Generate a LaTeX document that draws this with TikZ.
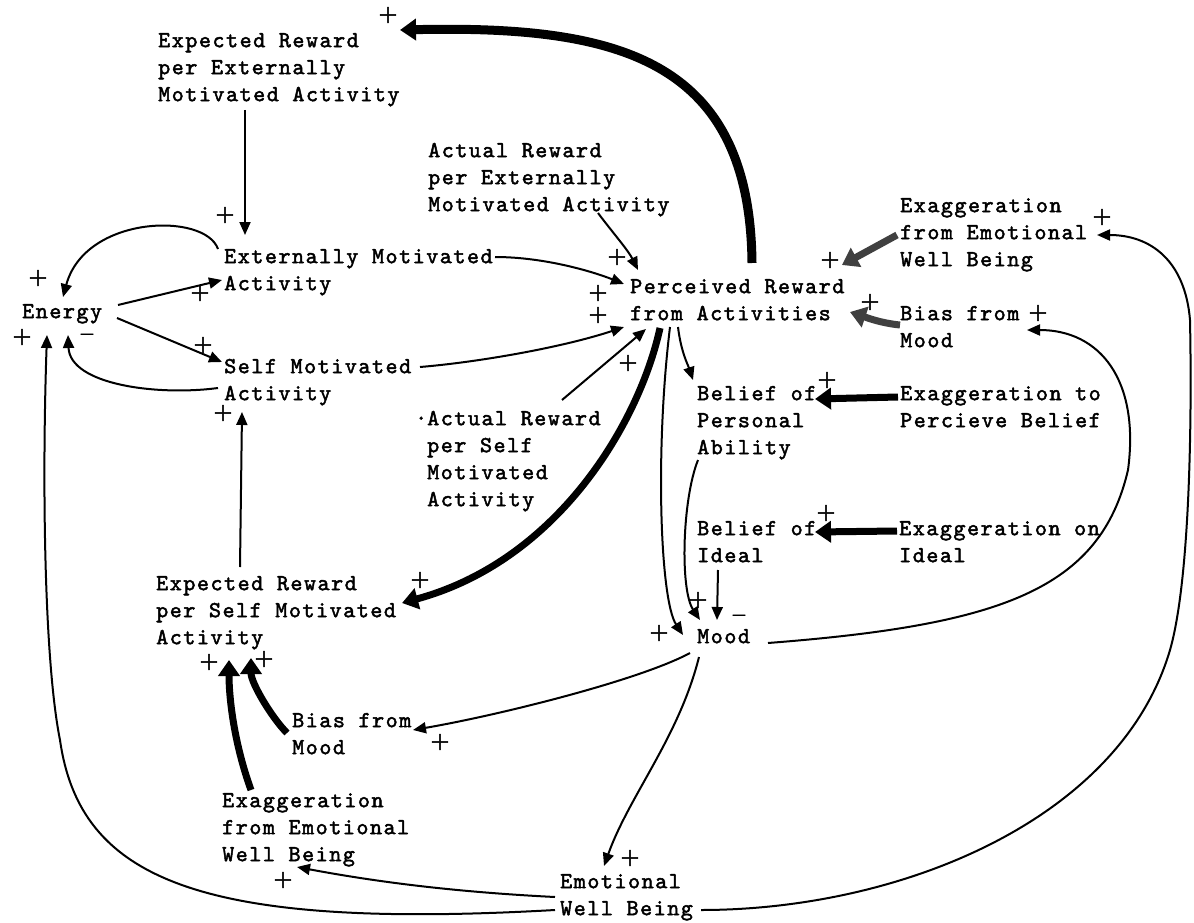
\documentclass[tikz,border=0pt]{standalone}
\usepackage{fontspec}
\newfontfamily\typewriter[LetterSpace=6.5,FakeBold=2]{lmmono10-regular.otf}
\newfontfamily\signfont[FakeBold=2.5]{lmroman10-bold.otf}
\usetikzlibrary{arrows.meta,calc}
\newcommand\ts{\rule{0pt}{16pt}}

\begin{document}
\begin{tikzpicture}[x=1pt,y=-1pt,
  var/.style={font=\typewriter\fontsize{23}{27}\selectfont, align=left, anchor=north west, inner sep=0pt},
  sign/.style={font=\signfont\fontsize{21}{21}\selectfont, inner sep=0pt},
  link/.style={line width=2pt, -{Triangle[length=13pt,width=11pt]}},
  heavy/.style={line width=7pt, -{Triangle[length=16pt,width=21pt]}}]
\useasboundingbox (0,0) rectangle (1194,923);
\fill[white] (0,0) rectangle (1194,923);
% variables
\node[var] (ExpExt) at (158,31) {\ts Expected Reward\\per Externally\\Motivated Activity};
\node[var] (ActExt) at (428,141) {\ts Actual Reward\\per Externally\\Motivated Activity};
\node[var] (ExtAct) at (224,247) {\ts Externally Motivated\\Activity};
\node[var] (Energy) at (22,302) {\ts Energy};
\node[var] (SelfAct) at (224,357) {\ts Self Motivated\\Activity};
\node[var] (PerRew) at (630,277) {\ts Perceived Reward\\from Activities};
\node[var] (ActSelf) at (427,409) {\ts\llap{·}Actual Reward\\per Self\\Motivated\\Activity};
\node[var] (ExpSelf) at (156,574) {\ts Expected Reward\\per Self Motivated\\Activity};
\node[var] (BelPers) at (697,384) {\ts Belief of\\Personal\\Ability};
\node[var] (BelIdeal) at (697,519) {\ts Belief of\\Ideal};
\node[var] (Mood) at (697,627) {\ts Mood};
\node[var] (EWB) at (560,872) {\ts Emotional\\Well Being};
\node[var] (ExagR) at (900,196) {\ts Exaggeration\\from Emotional\\Well Being};
\node[var] (BiasR) at (900,304) {\ts Bias from\\Mood};
\node[var] (ExagPerc) at (900,384) {\ts Exaggeration to\\Percieve Belief};
\node[var] (ExagIdeal) at (899,519) {\ts Exaggeration on\\Ideal};
\node[var] (BiasL) at (292,711) {\ts Bias from\\Mood};
\node[var] (ExagL) at (222,791) {\ts Exaggeration\\from Emotional\\Well Being};
% thin links
\draw[link] ($(ExpExt.north west)+(87,79)$) -- ($(ExtAct.north west)+(21,-12)$);
\draw[link] ($(ExtAct.north west)+(-6,2)$) .. controls +(-13,-37) and +(22,-82) .. ($(Energy.north west)+(41,-5)$);
\draw[link] ($(Energy.north west)+(96,3)$) -- ($(ExtAct.north west)+(-2,33)$);
\draw[link] ($(Energy.north west)+(95,16)$) -- ($(SelfAct.north west)+(-2,5)$);
\draw[link] ($(SelfAct.north west)+(-6,31)$) .. controls +(-60,8) and +(2,50) .. ($(Energy.north west)+(46,33)$);
\draw[link] ($(ExpSelf.north west)+(84,-7)$) -- ($(SelfAct.north west)+(18,55)$);
\draw[link] ($(EWB.north west)+(-5,38)$) .. controls (200,930) and (80,880) .. (60,740)
  .. controls (44,660) and (42,480) .. ($(Energy.north west)+(25,33)$);
\draw[link] ($(ActExt.north west)+(170,72)$) .. controls +(15,20) and +(-10,-20) .. ($(PerRew.north west)+(8,-7)$);
\draw[link] ($(ExtAct.north west)+(271,10)$) .. controls +(50,0) and +(-30,-12) .. ($(PerRew.north west)+(-6,7)$);
\draw[link] ($(SelfAct.north west)+(196,10)$) .. controls +(60,-5) and +(-60,20) .. ($(PerRew.north west)+(-6,50)$);
\draw[link] ($(ActSelf.north west)+(135,-9)$) -- ($(PerRew.north west)+(16,52)$);
\draw[link] ($(PerRew.north west)+(48,50)$) .. controls +(3,25) and +(-5,-15) .. ($(BelPers.north west)+(-4,-4)$);
\draw[link] ($(PerRew.north west)+(40,50)$) .. controls +(-15,123) and +(-23,-35) .. ($(Mood.north west)+(-14,8)$);
\draw[link] ($(BelPers.north west)+(1,76)$) .. controls +(-16,40) and +(-20,-30) .. ($(Mood.north west)+(3,-7)$);
\draw[link] ($(BelIdeal.north west)+(21,51)$) -- ($(Mood.north west)+(20,-7)$);
\draw[link] ($(Mood.north west)+(-7,26)$) .. controls +(-50,27) and +(87,-15) .. ($(BiasL.north west)+(121,19)$);
\draw[link] ($(Mood.north west)+(2,30)$) .. controls +(-20,80) and +(25,-70) .. ($(EWB.north west)+(44,-6)$);
\draw[link] ($(Mood.north west)+(71,16)$) .. controls (1000,625) and (1100,590) .. (1128,470)
  .. controls (1140,380) and (1100,330) .. ($(BiasR.north west)+(127,26)$);
\draw[link] ($(EWB.north west)+(-5,25)$) .. controls +(-100,-5) and +(80,15) .. ($(ExagL.north west)+(75,76)$);
\draw[link] ($(EWB.north west)+(141,38)$) .. controls (900,910) and (1120,820) .. (1170,650)
  .. controls (1190,580) and (1192,420) .. (1190,320)
  .. controls (1185,260) and (1150,235) .. ($(ExagR.north west)+(197,39)$);
% heavy links
\draw[heavy, line width=9pt] ($(PerRew.north west)+(122,-14)$) .. controls +(-2,-203) and +(220,-5) .. ($(ExpExt.north west)+(242,-1)$);
\draw[heavy] ($(PerRew.north west)+(30,51)$) .. controls +(-20,92) and +(158,-43) .. ($(ExpSelf.north west)+(246,29)$);
\draw[heavy, black!75] ($(ExagR.north west)+(-3,39)$) -- ($(PerRew.north west)+(212,-12)$);
\draw[heavy, black!75] ($(BiasR.north west)+(0,21)$) .. controls +(-20,-2) and +(15,5) .. ($(PerRew.north west)+(220,35)$);
\draw[heavy] ($(ExagPerc.north west)+(-2,13)$) -- ($(BelPers.north west)+(118,15)$);
\draw[heavy] ($(ExagIdeal.north west)+(-2,12)$) -- ($(BelIdeal.north west)+(118,13)$);
\draw[heavy] ($(BiasL.north west)+(-5,22)$) .. controls +(-15,-15) and +(0,25) .. ($(ExpSelf.north west)+(95,84)$);
\draw[heavy] ($(ExagL.north west)+(29,-1)$) .. controls +(-18,-50) and +(0,35) .. ($(ExpSelf.north west)+(73,86)$);
% polarity signs
\foreach \x/\y/\s [count=\i] in {388/15/+, 225/215/+, 38/278/+, 200/293/+, 203/345/+,
  22/337/+, 87/337/–, 223/413/+, 617/257/+, 598/293/+, 598/315/+, 628/363/+, 420/580/+,
  830/260/+, 870/302/+, 1102/217/+, 1038/313/+, 827/380/+, 826/513/+, 698/600/+,
  739/618/–, 659/633/+, 209/662/+, 264/659/+, 440/742/+, 630/858/+, 283/880/+}
  \node[sign] (sg\i) at (\x,\y) {\s};
\end{tikzpicture}
\end{document}
